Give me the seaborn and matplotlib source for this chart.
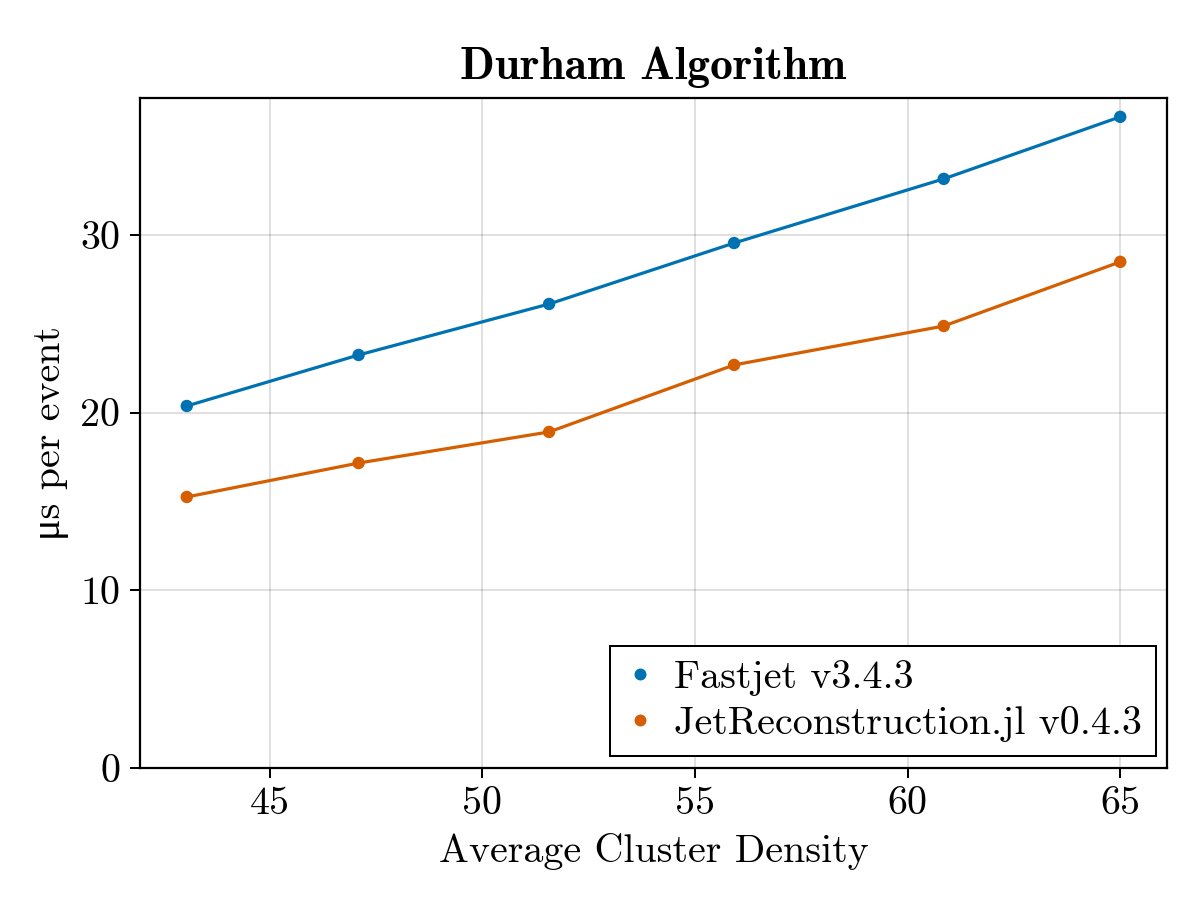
import matplotlib
matplotlib.use("Agg")
import matplotlib.pyplot as plt
import seaborn as sns
import pandas as pd
import numpy as np
from matplotlib.lines import Line2D

density = [43.05, 47.09, 51.57, 55.92, 60.85, 65.0]
fastjet = [20.37, 23.24, 26.11, 29.54, 33.15, 36.64]
jetrecon = [15.25, 17.16, 18.91, 22.68, 24.87, 28.48]
series_names = ["Fastjet v3.4.3", "JetReconstruction.jl v0.4.3"]
colors = ["#0072B2", "#D55E00"]
xticks = [45, 50, 55, 60, 65]
yticks = [0, 10, 20, 30]

df = pd.DataFrame({
    "x": density * 2,
    "y": fastjet + jetrecon,
    "impl": [series_names[0]] * len(density) + [series_names[1]] * len(density),
})

sns.set_theme(style="ticks")
plt.rcParams["font.family"] = ["cmr10", "Liberation Serif", "DejaVu Serif"]
plt.rcParams["mathtext.fontset"] = "cm"
plt.rcParams["axes.formatter.use_mathtext"] = True
plt.rcParams["text.color"] = "black"
plt.rcParams["axes.labelcolor"] = "black"
plt.rcParams["xtick.color"] = "black"
plt.rcParams["ytick.color"] = "black"

fig = plt.figure(figsize=(6, 4.5), dpi=200)
ax = fig.add_axes([140/1200, 1-768/900, (1167-140)/1200, (768-98)/900])

pal = dict(zip(series_names, colors))
sns.lineplot(data=df, x="x", y="y", hue="impl", palette=pal, ax=ax,
             legend=False, linewidth=1.15, zorder=3)
sns.scatterplot(data=df, x="x", y="y", hue="impl", palette=pal, ax=ax,
                legend=False, s=20, linewidth=0, zorder=4)

ax.set_xlim(41.95, 66.1)
ax.set_ylim(0, 37.7)
ax.set_xticks(xticks)
ax.set_yticks(yticks)
ax.set_xticklabels([str(t) for t in xticks])
ax.set_yticklabels([str(t) for t in yticks])
ax.grid(True, color="black", alpha=0.12, linewidth=0.72)
ax.set_axisbelow(True)
for s in ax.spines.values():
    s.set_visible(True)
    s.set_color("black")
    s.set_linewidth(0.8)
ax.tick_params(axis="x", which="major", direction="out", length=3.6, width=0.72,
               labelsize=14.4, pad=3.0)
ax.tick_params(axis="y", which="major", direction="out", length=3.6, width=0.72,
               labelsize=14.4, pad=3.5)

ax.set_xlabel("Average Cluster Density", fontsize=14.4, labelpad=4)
ax.set_ylabel("\u03bcs per event", fontsize=14.4, labelpad=4)
ax.set_title("Durham Algorithm", fontsize=16.4, family=["cmb10", "DejaVu Serif"], pad=7)

handles = [Line2D([], [], linestyle="none", marker="o", markersize=4.3,
                  markerfacecolor=c, markeredgewidth=0) for c in colors]
leg = ax.legend(handles, series_names, loc="lower right",
                bbox_to_anchor=((1156-140)/1027, (768-756)/670),
                fontsize=14.4, frameon=True, fancybox=False, framealpha=1,
                edgecolor="black", handlelength=0.8, handletextpad=0.45,
                borderpad=0.35, labelspacing=0.25, borderaxespad=0)
leg.get_frame().set_linewidth(0.72)

fig.savefig("out.png", dpi=200)
